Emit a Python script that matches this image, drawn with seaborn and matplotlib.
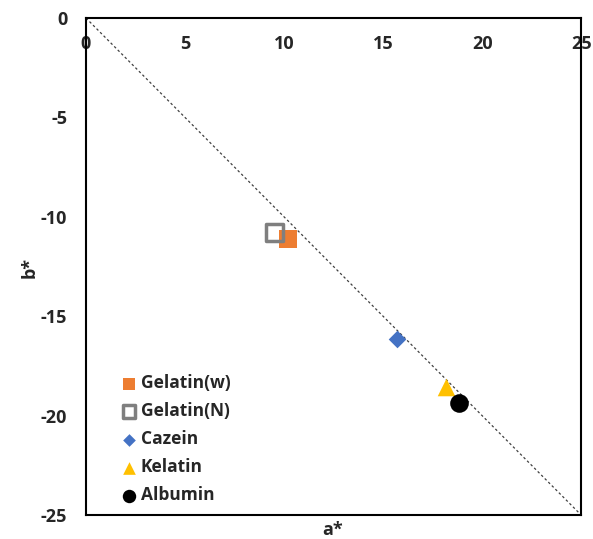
import matplotlib
matplotlib.use("Agg")
import matplotlib.pyplot as plt
import seaborn as sns
import pandas as pd

samples = ["Gelatin(w)", "Gelatin(N)", "Cazein", "Kelatin", "Albumin"]
a_vals = [10.2, 9.5, 15.7, 18.2, 18.85]
b_vals = [-11.1, -10.8, -16.15, -18.55, -19.35]
x_ticks = [0, 5, 10, 15, 20, 25]
y_ticks = [0, -5, -10, -15, -20, -25]
line_x = [0, 25]
line_y = [0, -25]

df = pd.DataFrame({"sample": samples, "a": a_vals, "b": b_vals})

sns.set_theme(style="white")
plt.rcParams['font.family'] = ['Open Sans', 'DejaVu Sans']

fig = plt.figure(figsize=(5.93, 5.39), dpi=100)
ax = fig.add_axes([0.145, 0.0445, 0.835, 0.922])

styles = {
    "Gelatin(w)": dict(marker="s", color="#ED7D31", edgecolor="#ED7D31", s=150, linewidth=0),
    "Gelatin(N)": dict(marker="s", color="none", edgecolor="#7F7F7F", s=150, linewidth=2.5),
    "Cazein": dict(marker="D", color="#4472C4", edgecolor="#4472C4", s=80, linewidth=0),
    "Kelatin": dict(marker="^", color="#FFC000", edgecolor="#FFC000", s=160, linewidth=0),
    "Albumin": dict(marker="o", color="black", edgecolor="black", s=180, linewidth=0),
}

sns.lineplot(x=line_x, y=line_y, ax=ax, color="#404040", linewidth=0.9,
             linestyle=(0, (2, 2)), zorder=1)

for name in samples:
    sub = df[df["sample"] == name]
    st = styles[name]
    sns.scatterplot(data=sub, x="a", y="b", ax=ax, marker=st["marker"],
                    facecolor=st["color"], edgecolor=st["edgecolor"],
                    s=st["s"], linewidth=st["linewidth"], label=name, zorder=3)

ax.set_xlim(0, 25)
ax.set_ylim(-25, 0)
ax.set_xticks(x_ticks)
ax.set_yticks(y_ticks)
ax.set_xticklabels([str(t) for t in x_ticks], fontweight="bold", fontsize=13)
ax.set_yticklabels([str(t) for t in y_ticks], fontweight="bold", fontsize=13)
ax.xaxis.set_ticks_position("top")
ax.tick_params(axis="x", which="both", length=0, top=False, bottom=False,
               labeltop=True, labelbottom=False, pad=-25)
ax.tick_params(axis="y", length=0, pad=13.5)
for sp in ax.spines.values():
    sp.set_color("black")
    sp.set_linewidth(1.5)

ax.set_xlabel("")
ax.set_ylabel("")
fig.text(333 / 593, 1 - 530 / 539, "a*", ha="center", va="center",
         fontweight="bold", fontsize=13)
fig.text(30 / 593, 1 - 268 / 539, "b*", ha="center", va="center",
         rotation=90, fontweight="bold", fontsize=13)

leg = ax.legend(loc="lower left", bbox_to_anchor=(0.035, -0.01), frameon=False,
                markerscale=0.72, handletextpad=0.05, labelspacing=0.58,
                prop={"weight": "bold", "size": 12.5}, handlelength=1.2)

fig.savefig("out.png", dpi=100)
